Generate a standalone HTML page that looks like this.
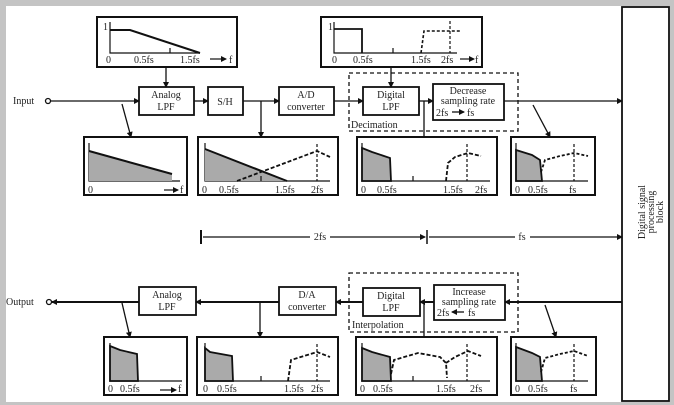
<!DOCTYPE html>
<html><head><meta charset="utf-8"><style>
html,body{margin:0;padding:0;background:#c4c4c4}
svg{display:block}
text{font-family:"Liberation Serif",serif;font-size:10px;fill:#222}
</style></head><body>
<svg width="674" height="405" viewBox="0 0 674 405" xmlns="http://www.w3.org/2000/svg">
<defs>
<marker id="ar" markerWidth="6" markerHeight="6" refX="5" refY="3" orient="auto" markerUnits="userSpaceOnUse"><path d="M0,0 L6,3 L0,6 z" fill="#111"/></marker>
</defs>
<rect x="6" y="6" width="664" height="396" fill="#fff"/>
<g stroke="#111" fill="none" stroke-width="1.3">
<rect x="622" y="7" width="47" height="394" stroke-width="1.8"/>
<rect x="97" y="17" width="140" height="50" stroke-width="2"/>
<rect x="321" y="17" width="161" height="50" stroke-width="2"/>
<rect x="139" y="87" width="55" height="28" stroke-width="1.8"/>
<rect x="208" y="87" width="35" height="28" stroke-width="1.8"/>
<rect x="279" y="87" width="55" height="28" stroke-width="1.8"/>
<rect x="363" y="87" width="56" height="28" stroke-width="1.8"/>
<rect x="433" y="84" width="71" height="36" stroke-width="1.8"/>
<rect x="349" y="73" width="169" height="58" stroke-dasharray="4,3"/>
<line x1="51" y1="101" x2="139" y2="101" marker-end="url(#ar)"/>
<line x1="194" y1="101" x2="208" y2="101" marker-end="url(#ar)"/>
<line x1="243" y1="101" x2="279" y2="101" marker-end="url(#ar)"/>
<line x1="334" y1="101" x2="363" y2="101" marker-end="url(#ar)"/>
<line x1="419" y1="101" x2="433" y2="101" marker-end="url(#ar)"/>
<line x1="504" y1="101" x2="622" y2="101" marker-end="url(#ar)"/>
<circle cx="48" cy="101" r="2.5" fill="#fff"/>
<line x1="166" y1="67" x2="166" y2="87" marker-end="url(#ar)"/>
<line x1="391" y1="67" x2="391" y2="87" marker-end="url(#ar)"/>
<line x1="122" y1="104" x2="131" y2="137" marker-end="url(#ar)"/>
<line x1="261" y1="101" x2="261" y2="137" marker-end="url(#ar)"/>
<line x1="424" y1="101" x2="424" y2="137"/>
<line x1="533" y1="105" x2="550" y2="137" marker-end="url(#ar)"/>
<line x1="452" y1="112" x2="464" y2="112" marker-end="url(#ar)"/>
<line x1="464" y1="312" x2="452" y2="312" marker-end="url(#ar)"/>
<line x1="201" y1="230" x2="201" y2="244" stroke-width="2"/>
<line x1="427" y1="230" x2="427" y2="244" stroke-width="1.5"/>
<line x1="203" y1="237" x2="310" y2="237"/><line x1="330" y1="237" x2="425" y2="237" marker-end="url(#ar)"/>
<line x1="429" y1="237" x2="515" y2="237"/><line x1="530" y1="237" x2="622" y2="237" marker-end="url(#ar)"/>
<rect x="139" y="287" width="57" height="28" stroke-width="1.8"/>
<rect x="279" y="287" width="57" height="28" stroke-width="1.8"/>
<rect x="363" y="288" width="57" height="28" stroke-width="1.8"/>
<rect x="434" y="285" width="71" height="35" stroke-width="1.8"/>
<rect x="349" y="273" width="169" height="59" stroke-dasharray="4,3"/>
<line x1="622" y1="302" x2="505" y2="302" stroke-width="2" marker-end="url(#ar)"/>
<line x1="434" y1="302" x2="420" y2="302" stroke-width="2" marker-end="url(#ar)"/>
<line x1="363" y1="302" x2="336" y2="302" stroke-width="2" marker-end="url(#ar)"/>
<line x1="279" y1="302" x2="196" y2="302" stroke-width="2" marker-end="url(#ar)"/>
<line x1="139" y1="302" x2="52" y2="302" stroke-width="2" marker-end="url(#ar)"/>
<circle cx="49" cy="302" r="2.5" fill="#fff"/>
<line x1="122" y1="303" x2="130" y2="337" marker-end="url(#ar)"/>
<line x1="260" y1="302" x2="260" y2="337" marker-end="url(#ar)"/>
<line x1="424" y1="302" x2="424" y2="337"/>
<line x1="545" y1="305" x2="556" y2="337" marker-end="url(#ar)"/>
<g stroke-width="2">
<rect x="84" y="137" width="103" height="58"/><rect x="198" y="137" width="140" height="58"/>
<rect x="357" y="137" width="140" height="58"/><rect x="511" y="137" width="84" height="58"/>
<rect x="104" y="337" width="83" height="58"/><rect x="197" y="337" width="141" height="58"/>
<rect x="356" y="337" width="141" height="58"/><rect x="511" y="337" width="85" height="58"/>
</g>
</g>
<g stroke="#111" fill="none" stroke-width="1.2">
<path d="M110,22 V53 H200"/><path d="M110,30 H130 L200,53" stroke-width="2"/><line x1="170" y1="48" x2="170" y2="53"/>
<line x1="210" y1="59" x2="226" y2="59" marker-end="url(#ar)"/>
<path d="M334,22 V53 H457"/><path d="M334,29 H362 V53" stroke-width="1.8"/><line x1="393" y1="48" x2="393" y2="53"/>
<path d="M421,53 L424,31 H460" stroke-dasharray="3,2" stroke-width="1.6"/><line x1="450" y1="21" x2="450" y2="53" stroke-dasharray="3,2"/>
<line x1="460" y1="59" x2="474" y2="59" marker-end="url(#ar)"/>
<path d="M89,143 V181 H180"/><path d="M89,151 L172,174 V181 H89 Z" fill="#aaa" stroke="none"/><path d="M89,151 L172,174" stroke-width="2"/>
<line x1="164" y1="190" x2="178" y2="190" marker-end="url(#ar)"/>
<path d="M205,143 V181 H330"/><path d="M205,149 L287,181 H205 Z" fill="#aaa" stroke="none"/><path d="M205,149 L287,181" stroke-width="2"/>
<line x1="261" y1="176" x2="261" y2="181"/><path d="M237,181 L317,151 L330,157" stroke-dasharray="4,2" stroke-width="1.8"/><line x1="317" y1="144" x2="317" y2="181" stroke-dasharray="3,2"/>
<path d="M362,143 V181 H490"/><path d="M362,148 L372,152 L390,158 L391,181 H362 Z" fill="#aaa" stroke="#111" stroke-width="1.8"/>
<line x1="413" y1="176" x2="413" y2="181"/><path d="M446,181 L448,163 L455,157 L468,153 L481,156" stroke-dasharray="4,2" stroke-width="1.8"/><line x1="467" y1="144" x2="467" y2="181" stroke-dasharray="3,2"/>
<path d="M516,143 V181 H588"/><path d="M516,150 L532,155 L540,160 L542,181 H516 Z" fill="#aaa" stroke="#111" stroke-width="1.8"/>
<path d="M541,172 L545,160 L560,156 L574,153 L588,156" stroke-dasharray="3,2" stroke-width="1.8"/><line x1="574" y1="144" x2="574" y2="181" stroke-dasharray="3,2"/>
<path d="M110,343 V381 H182"/><path d="M110,346 L120,350 L137,354 L138,381 H110 Z" fill="#aaa" stroke="#111" stroke-width="1.8"/>
<line x1="160" y1="390" x2="176" y2="390" marker-end="url(#ar)"/>
<path d="M205,343 V381 H330"/><path d="M205,348 L210,352 L232,356 L233,381 H205 Z" fill="#aaa" stroke="#111" stroke-width="1.8"/>
<line x1="261" y1="376" x2="261" y2="381"/><path d="M288,381 L291,360 L317,352 L330,357" stroke-dasharray="4,2" stroke-width="1.8"/><line x1="317" y1="344" x2="317" y2="381" stroke-dasharray="3,2"/>
<path d="M362,343 V381 H490"/><path d="M362,348 L372,352 L390,357 L391,381 H362 Z" fill="#aaa" stroke="#111" stroke-width="1.8"/>
<line x1="413" y1="376" x2="413" y2="381"/>
<path d="M391,374 L394,360 L418,353 L440,357 L446,363 L447,378 M446,363 L455,357 L468,351 L481,356" stroke-dasharray="4,2" stroke-width="1.8"/><line x1="467" y1="344" x2="467" y2="381" stroke-dasharray="3,2"/>
<path d="M516,343 V381 H588"/><path d="M516,347 L532,353 L540,357 L542,381 H516 Z" fill="#aaa" stroke="#111" stroke-width="1.8"/>
<path d="M541,372 L545,358 L560,354 L574,351 L588,356" stroke-dasharray="3,2" stroke-width="1.8"/><line x1="574" y1="344" x2="574" y2="381" stroke-dasharray="3,2"/>
</g>
<g>
<text x="103" y="30">1</text>
<text x="106" y="63">0</text><text x="134" y="63">0.5fs</text><text x="180" y="63">1.5fs</text><text x="229" y="63">f</text>
<text x="328" y="30">1</text>
<text x="332" y="63">0</text><text x="353" y="63">0.5fs</text><text x="411" y="63">1.5fs</text><text x="441" y="63">2fs</text><text x="475" y="63">f</text>
<text x="13" y="104">Input</text><text x="6" y="305">Output</text>
<text x="166" y="98" text-anchor="middle">Analog</text><text x="166" y="110" text-anchor="middle">LPF</text>
<text x="225" y="105" text-anchor="middle">S/H</text>
<text x="306" y="98" text-anchor="middle">A/D</text><text x="306" y="110" text-anchor="middle">converter</text>
<text x="391" y="98" text-anchor="middle">Digital</text><text x="391" y="110" text-anchor="middle">LPF</text>
<text x="468" y="94" text-anchor="middle">Decrease</text><text x="468" y="104" text-anchor="middle">sampling rate</text><text x="436" y="116">2fs</text><text x="467" y="116">fs</text>
<text x="351" y="128">Decimation</text>
<text x="167" y="298" text-anchor="middle">Analog</text><text x="167" y="310" text-anchor="middle">LPF</text>
<text x="307" y="298" text-anchor="middle">D/A</text><text x="307" y="310" text-anchor="middle">converter</text>
<text x="391" y="299" text-anchor="middle">Digital</text><text x="391" y="311" text-anchor="middle">LPF</text>
<text x="469" y="295" text-anchor="middle">Increase</text><text x="469" y="305" text-anchor="middle">sampling rate</text><text x="437" y="316">2fs</text><text x="468" y="316">fs</text>
<text x="352" y="328">Interpolation</text>
<text x="320" y="240" text-anchor="middle">2fs</text><text x="522" y="240" text-anchor="middle">fs</text>
<g font-size="9">
<text x="88" y="193">0</text><text x="180" y="193">f</text>
<text x="202" y="193">0</text><text x="219" y="193">0.5fs</text><text x="275" y="193">1.5fs</text><text x="311" y="193">2fs</text>
<text x="361" y="193">0</text><text x="377" y="193">0.5fs</text><text x="443" y="193">1.5fs</text><text x="475" y="193">2fs</text>
<text x="515" y="193">0</text><text x="528" y="193">0.5fs</text><text x="569" y="193">fs</text>
<text x="108" y="392">0</text><text x="120" y="392">0.5fs</text><text x="178" y="392">f</text>
<text x="203" y="392">0</text><text x="217" y="392">0.5fs</text><text x="284" y="392">1.5fs</text><text x="311" y="392">2fs</text>
<text x="360" y="392">0</text><text x="373" y="392">0.5fs</text><text x="436" y="392">1.5fs</text><text x="470" y="392">2fs</text>
<text x="515" y="392">0</text><text x="528" y="392">0.5fs</text><text x="570" y="392">fs</text>
</g>
<g transform="translate(645,212) rotate(-90)" font-size="10">
<text x="0" y="0" text-anchor="middle">Digital signal</text>
<text x="0" y="9" text-anchor="middle">processing</text>
<text x="0" y="18" text-anchor="middle">block</text>
</g>
</g>
</svg>
</body></html>
